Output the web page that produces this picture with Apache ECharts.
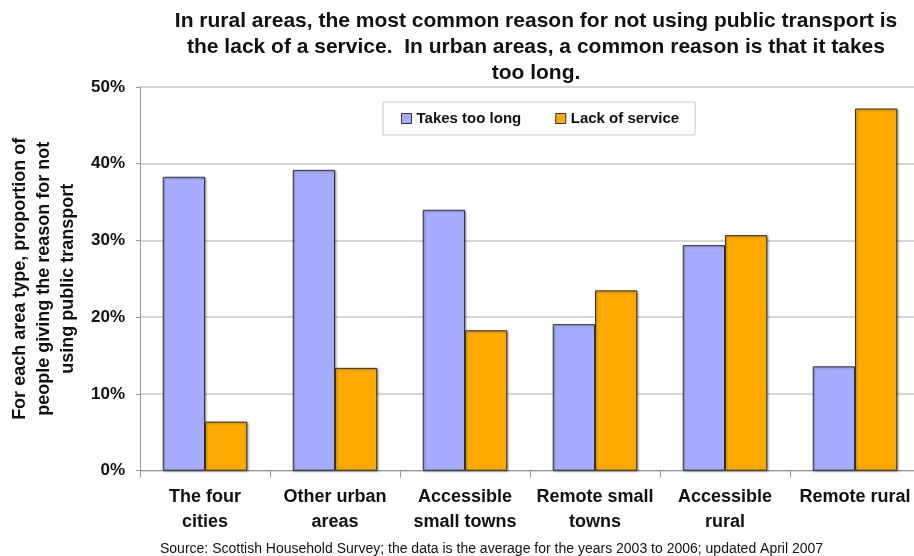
<!DOCTYPE html>
<html>
<head>
<meta charset="utf-8">
<script src="https://cdn.jsdelivr.net/npm/echarts@6/dist/echarts.min.js"></script>
<style>html,body{margin:0;padding:0;background:#fff}#c{width:914px;height:556px}</style>
</head>
<body>
<div id="c"></div>
<script>
const categories = ["The four\ncities", "Other urban\nareas", "Accessible\nsmall towns", "Remote small\ntowns", "Accessible\nrural", "Remote rural"];
const seriesNames = ["Takes too long", "Lack of service"];
const takesTooLong = [38.3, 39.2, 34.0, 19.1, 29.4, 13.6];
const lackOfService = [6.4, 13.4, 18.3, 23.5, 30.7, 47.2];
const yTicks = [0, 10, 20, 30, 40, 50];

const titleText = "In rural areas, the most common reason for not using public transport is\nthe lack of a service.  In urban areas, a common reason is that it takes\ntoo long.";
const yAxisTitle = "For each area type, proportion of\npeople giving the reason for not\nusing public transport";
const sourceText = "Source: Scottish Household Survey; the data is the average for the years 2003 to 2006; updated April 2007";

const chart = echarts.init(document.getElementById('c'), null, {renderer: 'canvas'});
const sans = '"Liberation Sans", Arial, sans-serif';
const barStyle = (c) => ({color: c, borderColor: '#333', borderWidth: 1, shadowColor: 'rgba(0,0,0,0.35)', shadowBlur: 2, shadowOffsetX: 1, shadowOffsetY: 1});
chart.setOption({
  animation: false,
  backgroundColor: '#fff',
  title: [{
    text: titleText,
    left: 531, top: 3, textAlign: 'center',
    textStyle: {fontFamily: sans, fontSize: 21, fontWeight: 'bold', color: '#111', lineHeight: 26}
  }, {
    text: sourceText,
    left: 155, top: 537,
    textStyle: {fontFamily: sans, fontSize: 14, fontWeight: 'normal', color: '#111'}
  }],
  legend: {
    data: seriesNames,
    left: 383, top: 102,
    padding: [9, 16, 9, 18],
    itemGap: 34,
    itemWidth: 10, itemHeight: 10,
    icon: 'rect',
    backgroundColor: '#fff',
    borderColor: '#c8c8c8', borderWidth: 1,
    textStyle: {fontFamily: sans, fontSize: 15, fontWeight: 'bold', color: '#111'},
    itemStyle: {borderColor: '#333', borderWidth: 1}
  },
  grid: {left: 140, top: 87, width: 780, height: 383.7, containLabel: false, outerBoundsMode: 'none'},
  xAxis: {
    type: 'category', data: categories,
    axisLine: {lineStyle: {color: '#999', width: 1}},
    axisTick: {show: true, length: 7, lineStyle: {color: '#999'}},
    axisLabel: {interval: 0, fontFamily: sans, fontSize: 18, fontWeight: 'bold', color: '#111', margin: 14, lineHeight: 25}
  },
  yAxis: {
    type: 'value', min: 0, max: 50, interval: 10,
    axisLine: {show: true, lineStyle: {color: '#999'}},
    axisTick: {show: true, length: 4, lineStyle: {color: '#999'}},
    splitLine: {lineStyle: {color: '#c8c8c8', width: 1.5}},
    axisLabel: {formatter: (v) => yTicks.includes(v) ? v + '%' : '', fontFamily: sans, fontSize: 17, fontWeight: 'bold', color: '#111', margin: 15},
    name: yAxisTitle, nameLocation: 'middle', nameRotate: 90, nameGap: 58,
    nameTextStyle: {fontFamily: sans, fontSize: 18, fontWeight: 'bold', color: '#111', lineHeight: 24, align: 'center'}
  },
  series: [{
    name: seriesNames[0], type: 'bar', data: takesTooLong,
    barGap: '0%', barCategoryGap: '35%',
    itemStyle: barStyle('#a6adff')
  }, {
    name: seriesNames[1], type: 'bar', data: lackOfService,
    barGap: '0%', barCategoryGap: '35%',
    itemStyle: barStyle('#ffaa00')
  }]
});
</script>
</body>
</html>
